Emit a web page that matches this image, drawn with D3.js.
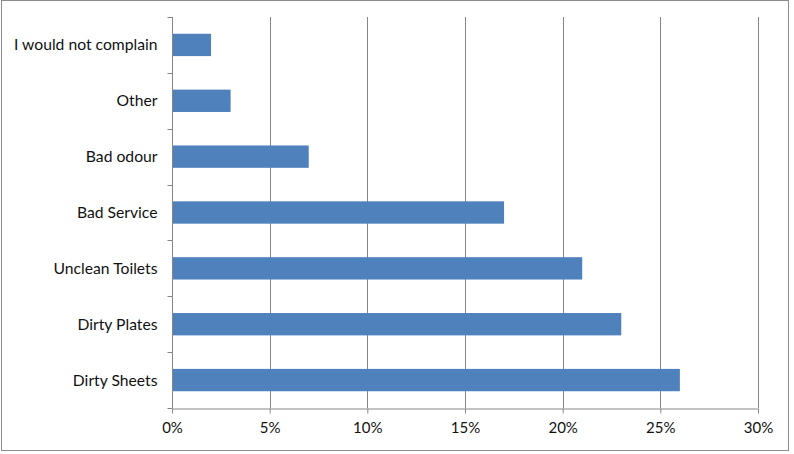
<!DOCTYPE html>
<html><head><meta charset="utf-8">
<script src="https://cdn.jsdelivr.net/npm/d3@7"></script>
<style>body{margin:0;background:#fff}svg{display:block}text{font-family:Lato,"Open Sans",sans-serif;fill:#111}</style>
</head><body>
<script>
const categories = ["I would not complain","Other","Bad odour","Bad Service","Unclean Toilets","Dirty Plates","Dirty Sheets"];
const values = [2,3,7,17,21,23,26];
const xTicks = [0,5,10,15,20,25,30];

const W=794,H=454;
const m={left:172,right:36,top:17,bottom:46};
const svg=d3.select("body").append("svg").attr("width",W).attr("height",H);
svg.append("rect").attr("x",1.5).attr("y",0.5).attr("width",787).attr("height",450).attr("fill","#fff").attr("stroke","#8c8c8c");

const x=d3.scaleLinear().domain([0,30]).range([m.left,W-m.right]);
const y=d3.scaleBand().domain(categories).range([m.top,H-m.bottom]).paddingInner(0.6).paddingOuter(0.3);

// gridlines
svg.append("g").selectAll("line").data(xTicks.slice(1)).join("line")
 .attr("x1",d=>Math.round(x(d))+0.5).attr("x2",d=>Math.round(x(d))+0.5)
 .attr("y1",m.top).attr("y2",H-m.bottom).attr("stroke","#868686");

svg.append("g").selectAll("rect").data(values).join("rect")
 .attr("x",x(0)).attr("y",(d,i)=>y(categories[i])).attr("width",d=>x(d)-x(0)).attr("height",y.bandwidth())
 .attr("fill","#4f81bd");

// x axis
const xa=svg.append("g").attr("transform",`translate(0,${H-m.bottom+0.5})`)
 .call(d3.axisBottom(x).tickValues(xTicks).tickFormat(d=>d+"%").tickSize(5).tickSizeOuter(0));
xa.select(".domain").attr("stroke","#868686");
xa.selectAll(".tick line").attr("stroke","#868686");
xa.selectAll("text").attr("font-size",15).attr("font-family","Lato, sans-serif").attr("dy","1.1em").attr("fill","#111");

// y axis
const step=y.step();
const boundaries=d3.range(categories.length+1).map(i=>m.top+i*step);
const ya=svg.append("g").attr("transform",`translate(${m.left+0.5},0)`);
ya.append("line").attr("y1",m.top).attr("y2",H-m.bottom).attr("stroke","#868686");
ya.selectAll("line.t").data(boundaries).join("line").attr("class","t")
 .attr("x1",-5).attr("x2",0).attr("y1",d=>Math.round(d)+0.5).attr("y2",d=>Math.round(d)+0.5).attr("stroke","#868686");
ya.selectAll("text").data(categories).join("text")
 .attr("x",-15).attr("y",d=>y(d)+y.bandwidth()/2).attr("dy","0.35em").attr("text-anchor","end")
 .attr("font-size",15.7).text(d=>d);
</script>
</body></html>
